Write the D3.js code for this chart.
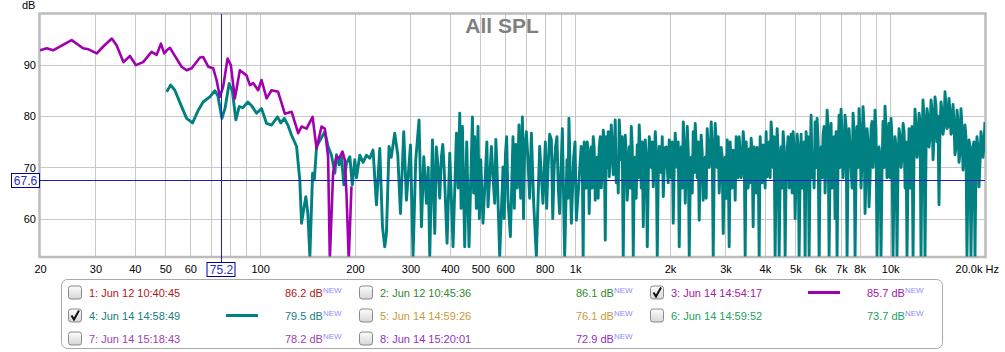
<!DOCTYPE html>
<html>
<head>
<meta charset="utf-8">
<script src="https://cdn.jsdelivr.net/npm/d3@7"></script>
<style>
  html, body { margin: 0; padding: 0; background: #fff; }
  svg text { font-family: "Liberation Sans", Arial, sans-serif; }
</style>
</head>
<body>
<div id="chart"></div>
<script>
// axis ticks and labels
const xTickValues = [20, 30, 40, 50, 60, 100, 200, 300, 400, 500, 600, 800, 1000, 2000, 3000, 4000, 5000, 6000, 7000, 8000, 10000];
const xTickLabels = ['20', '30', '40', '50', '60', '100', '200', '300', '400', '500', '600', '800', '1k', '2k', '3k', '4k', '5k', '6k', '7k', '8k', '10k'];
const yTickValues = [60, 70, 80, 90];

// cursor readout
const cursorFreq = 75.2;
const cursorDb = 67.6;

// legend entries
const legendNames = ['1: Jun 12 10:40:45', '2: Jun 12 10:45:36', '3: Jun 14 14:54:17',
                     '4: Jun 14 14:58:49', '5: Jun 14 14:59:26', '6: Jun 14 14:59:52',
                     '7: Jun 14 15:18:43', '8: Jun 14 15:20:01'];
const legendValues = ['86.2', '86.1', '85.7', '79.5', '76.1', '73.7', '78.2', '72.9'];
const legendChecked = [false, false, true, true, false, false, false, false];
const legendColors = ['#b01818', '#2e8b2e', '#a020a0', '#148080', '#c89b3c', '#22a060', '#a040b0', '#9030c0'];

// measurement 3 (purple) [Hz, dB]
const spl3 = [[20, 92.9], [21, 93.3], [22, 92.9], [25.2, 94.9], [27.4, 93.3], [28.5, 93.1], [30.3, 92.3],
  [31.7, 93.6], [33.8, 95.2], [35, 93.9], [36.8, 90.6], [38.6, 91.8], [40.3, 90.0], [42.5, 90.6],
  [45.2, 92.6], [46.9, 92.0], [48.4, 94.2], [49.6, 92.3], [50.5, 92.9], [51.7, 93.4], [53, 92.3],
  [56.3, 89.7], [58.4, 89.0], [60.6, 89.4], [64.4, 91.5], [65.9, 91.6], [68.4, 89.7], [70.9, 89.4],
  [72.7, 87.1], [74.5, 83.8], [76.3, 85.8], [78.8, 91.3], [80.7, 90.0], [83.1, 83.5], [86.2, 89.0],
  [90.5, 88.0], [92.8, 86.1], [95, 86.5], [98.5, 85.1], [101, 87.1], [104.8, 83.5], [108.7, 85.1],
  [114, 84.8], [119.8, 80.5], [125.8, 80.9], [132, 76.7], [135.3, 78], [140.4, 77.6], [146.7, 79.9],
  [151, 73.7], [156.6, 78], [160.4, 77.6], [164.3, 72.1], [166.4, 52], [170.4, 68.9], [174.7, 72.1],
  [178, 71.8], [182.5, 73.1], [185.6, 71.5], [187.9, 65], [191.1, 52], [194.9, 66.3]];

// measurement 4 (teal) [Hz, dB]
const spl4 = [[50.5, 84.8], [52, 86.1], [53.6, 85.1], [56.3, 81.9], [58.4, 79.6], [61, 78.7], [63.6, 81.2],
  [65.9, 82.8], [69.2, 83.8], [71.8, 85], [73.4, 84], [75.6, 79.6], [77.3, 81.5], [79.7, 86.4], [81.6, 85],
  [83.7, 79.3], [85.8, 81.9], [88.1, 81.7], [91.4, 82.8], [94.1, 82], [97.4, 80.6], [101, 81.5],
  [104.8, 78.6], [108.7, 78.3], [113.5, 79.9], [116.3, 78.7], [119.3, 79.6], [122.4, 78.3], [125.8, 76.3],
  [130.5, 74.1], [133.6, 67.5], [135.3, 59.1], [137.6, 62], [139.6, 64.3], [141.7, 61], [143.8, 52.6],
  [146.7, 68.9], [148.6, 67.6], [151, 74.1], [153.9, 75], [160.4, 77], [164.3, 74.1], [168.4, 72.4],
  [172.6, 68.9], [174.7, 72.5], [178.1, 70.5], [181.2, 72.1], [184.3, 66.6], [187.9, 70.8], [192.6, 72.1],
  [196.1, 66.6], [199.7, 71.5], [202.2, 68], [207.1, 72.4], [212.2, 71], [217.5, 72.4], [222.8, 71.8],
  [228.2, 73.4], [234, 62.7], [239.7, 73.7], [244.5, 58.4], [248.6, 54.5], [251.7, 57.1], [256.5, 74.1],
  [260.7, 72], [267.4, 76.7], [273.4, 72.5], [278.8, 61], [285.6, 77], [291.3, 63.6], [300, 74.4],
  [305.7, 52.6], [311.8, 71.5], [319.4, 79.3], [325.1, 58.4], [330.6, 72.1], [337.2, 63], [341.6, 70],
  [345.4, 52.6], [352.3, 75.4], [358.3, 57.1], [362.5, 74], [367, 70.1], [371.5, 64], [376.2, 72.1],
  [380, 74.5], [384, 69.5], [392, 55.2], [399.8, 72.8], [409.5, 54.5], [419.8, 76.7], [425, 66],
  [430.1, 80.6], [434.3, 62], [438.6, 78], [446, 54.5], [452.6, 75], [460.3, 54.5], [471.9, 79.9],
  [475.9, 65], [479.9, 76], [485.7, 62], [491.6, 78], [496.4, 60], [501.3, 71.5], [509.8, 59.1], [520, 70],
  [524.4, 75], [528.8, 62.3], [542.1, 74.1], [548.6, 68], [555.3, 63], [560, 75.5], [564.7, 70], [576, 52.6],
  [590.1, 70.1], [595.2, 60], [600.5, 72.5], [606, 76], [611.9, 63.6], [622.8, 56.5], [634.7, 76],
  [641, 62], [647.4, 74.5], [655.2, 66], [663.1, 78.3], [671.4, 64], [679.8, 79.9], [685.5, 60], [691.3, 74],
  [699.7, 77], [708.2, 71.5], [717, 64], [726.1, 76.7], [738.4, 63], [753, 52.6], [771.4, 74.1], [790.2, 63],
  [804.2, 75], [811.8, 62], [819.5, 69.5], [829.8, 76.5], [840.2, 75.4], [848.8, 60], [857.6, 70],
  [866.4, 74], [875.3, 76], [883.9, 66], [892.6, 61], [910.5, 77.6], [926, 52.6], [941.7, 71.5],
  [948.6, 64], [955.5, 79.6], [972.6, 59.1], [989.1, 72], [998.8, 75], [1008.6, 59.7],
  [1030, 68], [1037, 71], [1045, 74.1], [1053, 72], [1060, 52.6], [1068, 75], [1076, 70], [1084, 66],
  [1092, 75], [1100, 73], [1108, 61], [1116, 70], [1124, 74], [1132, 66], [1141, 76], [1149, 74],
  [1158, 63.6], [1166, 69], [1175, 72], [1183, 64], [1192, 73.9], [1201, 76], [1210, 66], [1219, 70],
  [1228, 77.3], [1237, 74], [1246, 55.8], [1255, 76], [1264, 70], [1273, 77], [1283, 68.2], [1292, 72],
  [1302, 78.3], [1311, 74], [1321, 68.6], [1330, 72], [1340, 79.3], [1350, 67], [1360, 72], [1370, 65],
  [1380, 79.3], [1390, 75], [1400, 71.5], [1410, 76], [1421, 52.6], [1431, 70], [1442, 76.3], [1452, 73],
  [1463, 63.6], [1474, 68], [1485, 74], [1496, 66], [1507, 78], [1518, 74], [1529, 52.6], [1540, 69],
  [1551, 72], [1562, 64], [1574, 74.4], [1585, 68], [1597, 78.3], [1609, 73], [1621, 66], [1633, 75],
  [1645, 58.4], [1657, 70], [1669, 75.4], [1681, 72], [1694, 54.5], [1706, 68], [1719, 76], [1731, 73],
  [1744, 70], [1757, 75], [1770, 66.2], [1783, 71], [1796, 77], [1809, 73], [1822, 52.6], [1835, 68],
  [1849, 74.1], [1862, 72], [1876, 69], [1890, 76], [1904, 64.3], [1918, 70], [1932, 73.9], [1946, 74],
  [1960, 70], [1974, 67], [1989, 75.4], [2003, 73], [2018, 68], [2033, 75], [2048, 59.1], [2063, 70],
  [2078, 76.7], [2093, 73], [2109, 70], [2124, 75], [2140, 54.5], [2156, 70], [2172, 74], [2188, 66],
  [2204, 78.9], [2220, 74], [2236, 63], [2252, 70], [2269, 78], [2286, 73], [2302, 52.6], [2319, 68],
  [2336, 72], [2353, 65], [2370, 77], [2387, 69], [2405, 78.6], [2423, 74], [2440, 68], [2458, 75],
  [2476, 59.7], [2494, 70], [2512, 76.3], [2530, 73], [2549, 63.6], [2568, 69], [2587, 72], [2606, 64],
  [2625, 77.6], [2644, 74], [2664, 70], [2683, 72], [2703, 78.9], [2723, 74], [2743, 52.6], [2763, 70],
  [2783, 78.6], [2803, 75], [2824, 70], [2845, 76], [2866, 65], [2887, 70], [2908, 73.9], [2929, 72],
  [2951, 57.1], [2972, 68], [2994, 72], [3016, 64], [3038, 75.4], [3060, 72], [3083, 54.5], [3105, 75],
  [3128, 70], [3151, 66], [3174, 73.4], [3197, 72], [3221, 63.6], [3244, 76], [3268, 71], [3292, 68],
  [3316, 76], [3340, 73], [3365, 68], [3390, 70], [3415, 77], [3440, 74], [3465, 52.6], [3490, 75],
  [3516, 70], [3542, 66], [3568, 73.6], [3594, 67], [3620, 75.7], [3646, 73], [3673, 58.4], [3700, 74],
  [3727, 71], [3754, 65], [3782, 73.9], [3810, 72], [3838, 52.6], [3866, 76], [3894, 70], [3922, 67],
  [3951, 74.4], [3980, 73], [4009, 66], [4038, 77], [4068, 68.2], [4098, 70], [4128, 75], [4158, 68],
  [4189, 78.9], [4220, 75], [4251, 70], [4282, 76], [4313, 52.6], [4345, 70], [4377, 77.6], [4409, 73],
  [4441, 52.6], [4474, 68], [4506, 74], [4539, 66], [4573, 77], [4606, 74], [4640, 52.6], [4674, 69],
  [4708, 73.1], [4742, 76], [4778, 66], [4813, 70], [4848, 76.5], [4884, 65], [4919, 77], [4955, 74],
  [4992, 60], [5029, 70], [5065, 76.5], [5102, 74], [5140, 52.6], [5178, 69], [5215, 76.5], [5253, 66],
  [5292, 72], [5331, 75], [5370, 52.6], [5409, 77], [5449, 70], [5489, 76], [5529, 52.6], [5570, 70],
  [5610, 80.2], [5651, 68], [5693, 72], [5735, 66], [5777, 78.9], [5819, 70], [5862, 79.6], [5905, 75],
  [5948, 52.6], [5992, 70], [6036, 74], [6080, 68], [6124, 76.5], [6169, 78], [6214, 65], [6260, 72],
  [6306, 81.2], [6352, 78], [6398, 52.6], [6445, 70], [6493, 78.6], [6540, 66], [6588, 75.4], [6636, 76],
  [6685, 60], [6734, 77], [6783, 52.6], [6833, 72], [6883, 80.2], [6933, 70], [6984, 81.4], [7035, 76],
  [7087, 68], [7139, 72], [7191, 80.2], [7244, 78], [7297, 52.6], [7350, 70], [7404, 77.6], [7458, 74],
  [7513, 70], [7568, 66], [7624, 80.6], [7680, 77], [7736, 52.6], [7793, 70], [7850, 78], [7907, 70],
  [7965, 81.5], [8023, 77], [8082, 66], [8141, 72], [8201, 81.9], [8261, 78], [8322, 61], [8383, 68],
  [8444, 77.6], [8506, 75], [8569, 62.3], [8632, 68], [8695, 77.6], [8759, 79], [8823, 70], [8888, 73],
  [8952, 81.2], [9018, 77], [9084, 52.6], [9151, 68], [9218, 74], [9285, 72], [9353, 52.6], [9422, 70],
  [9491, 79], [9561, 70], [9630, 82], [9701, 78], [9772, 68], [9844, 72], [9916, 78.6], [9988, 68],
  [10060, 79.6], [10130, 76], [10210, 52.6], [10290, 68], [10360, 76], [10440, 74], [10510, 52.6],
  [10590, 70], [10670, 77.6], [10750, 76], [10830, 70], [10910, 72], [10990, 78.6], [11070, 77],
  [11150, 66], [11230, 75], [11310, 52.6], [11390, 68], [11480, 77.6], [11560, 66], [11650, 75.4],
  [11730, 78], [11820, 52.6], [11900, 72], [11990, 81.4], [12080, 78], [12170, 72], [12260, 74],
  [12350, 80.6], [12440, 79], [12530, 52.6], [12620, 74], [12710, 83.2], [12800, 80], [12900, 52.6],
  [13000, 74], [13090, 81.5], [13180, 80], [13280, 74], [13380, 76], [13480, 83.2], [13580, 81],
  [13680, 71.5], [13780, 76], [13880, 83.8], [13980, 82], [14080, 75], [14180, 80], [14290, 62.7],
  [14390, 77], [14500, 82.8], [14600, 81], [14710, 76.5], [14820, 78], [14930, 84.8], [15040, 82],
  [15150, 77.6], [15260, 78], [15370, 83.5], [15480, 81], [15600, 76.5], [15710, 77], [15830, 82.3],
  [15940, 79], [16060, 72.5], [16180, 74], [16300, 81.2], [16420, 79], [16540, 71], [16660, 73],
  [16780, 81.5], [16900, 78], [17030, 69.5], [17150, 72], [17280, 78.3], [17400, 76], [17530, 52.6],
  [17660, 68], [17790, 75.4], [17920, 74], [18050, 52.6], [18180, 66], [18320, 74.1], [18450, 75],
  [18590, 52.6], [18720, 70], [18860, 76], [18990, 74], [19140, 66.2], [19280, 71], [19420, 77],
  [19560, 75], [19700, 72], [19840, 74], [19990, 78.9]];

const width = 1005, height = 352;
const plot = { left: 40, right: 985, top: 14, bottom: 256.5 };

const svg = d3.select('#chart').append('svg')
    .attr('width', width)
    .attr('height', height);

const x = d3.scaleLog().domain([20, 20000]).range([plot.left, plot.right]);
const y = d3.scaleLinear().domain([52.6, 100]).range([plot.bottom, plot.top]);

// grid
const grid = svg.append('g').attr('class', 'grid');
grid.selectAll('line.vx')
    .data(x.ticks().filter(d => d > 20 && d < 20000))
    .enter().append('line')
    .attr('x1', d => Math.round(x(d)) + 0.5)
    .attr('x2', d => Math.round(x(d)) + 0.5)
    .attr('y1', plot.top)
    .attr('y2', plot.bottom)
    .attr('stroke', '#c8c8c8');
grid.selectAll('line.hy')
    .data(yTickValues)
    .enter().append('line')
    .attr('x1', plot.left)
    .attr('x2', plot.right)
    .attr('y1', d => Math.round(y(d)) + 0.5)
    .attr('y2', d => Math.round(y(d)) + 0.5)
    .attr('stroke', '#c8c8c8');

// frame
svg.append('rect')
    .attr('x', plot.left - 0.5)
    .attr('y', plot.top - 0.5)
    .attr('width', plot.right - plot.left + 1)
    .attr('height', plot.bottom - plot.top + 1)
    .attr('fill', 'none')
    .attr('stroke', '#bcbcbc')
    .attr('stroke-width', 2.5);

// curves
svg.append('clipPath').attr('id', 'clip')
    .append('rect')
    .attr('x', plot.left).attr('y', plot.top)
    .attr('width', plot.right - plot.left)
    .attr('height', plot.bottom - plot.top);

const line = d3.line()
    .x(d => x(d[0]))
    .y(d => y(d[1]));

const curves = svg.append('g').attr('clip-path', 'url(#clip)');
curves.append('path')
    .datum(spl4)
    .attr('fill', 'none')
    .attr('stroke', '#008080')
    .attr('stroke-width', 2.9)
    .attr('stroke-linejoin', 'round')
    .attr('d', line);
curves.append('path')
    .datum(spl3)
    .attr('fill', 'none')
    .attr('stroke', '#a000b0')
    .attr('stroke-width', 2.6)
    .attr('stroke-linejoin', 'round')
    .attr('d', line);

// axes
const xAxis = svg.append('g')
    .attr('transform', `translate(0,${plot.bottom})`)
    .call(d3.axisBottom(x)
        .tickValues(xTickValues)
        .tickFormat((d, i) => xTickLabels[i])
        .tickSize(0)
        .tickPadding(8.5));
xAxis.select('.domain').remove();
xAxis.selectAll('text')
    .attr('fill', '#000')
    .style('font-size', '11px')
    .style('font-family', '"Liberation Sans", Arial, sans-serif');

svg.append('text')
    .attr('x', 999)
    .attr('y', 273)
    .attr('text-anchor', 'end')
    .style('font-size', '11px')
    .text('20.0k Hz');

const yAxis = svg.append('g')
    .attr('transform', `translate(${plot.left},0)`)
    .call(d3.axisLeft(y)
        .tickValues(yTickValues)
        .tickSize(0)
        .tickPadding(4));
yAxis.select('.domain').remove();
yAxis.selectAll('text')
    .attr('fill', '#000')
    .style('font-size', '11px')
    .style('font-family', '"Liberation Sans", Arial, sans-serif');

svg.append('text')
    .attr('x', 22)
    .attr('y', 9)
    .style('font-size', '11px')
    .text('dB');

// title
svg.append('text')
    .attr('x', 502)
    .attr('y', 33)
    .attr('text-anchor', 'middle')
    .attr('fill', '#808080')
    .style('font-size', '21px')
    .style('font-weight', 'bold')
    .text('All SPL');

// cursor
const cx = Math.round(x(cursorFreq)) + 0.5;
const cy = Math.round(y(cursorDb)) + 0.5;
const cursor = svg.append('g');
cursor.append('line')
    .attr('x1', cx).attr('x2', cx)
    .attr('y1', plot.top).attr('y2', 262)
    .attr('stroke', '#1c1cc0');
cursor.append('line')
    .attr('x1', 39).attr('x2', plot.right)
    .attr('y1', cy).attr('y2', cy)
    .attr('stroke', '#1c1cc0');
cursor.append('rect')
    .attr('x', cx - 14.5).attr('y', 262.5)
    .attr('width', 28).attr('height', 14)
    .attr('fill', '#fff')
    .attr('stroke', '#0000a0');
cursor.append('text')
    .attr('x', cx).attr('y', 274)
    .attr('text-anchor', 'middle')
    .attr('fill', '#2a2ad0')
    .style('font-size', '12px')
    .text(cursorFreq.toFixed(1));
cursor.append('rect')
    .attr('x', 11.5).attr('y', cy - 7)
    .attr('width', 28).attr('height', 14)
    .attr('fill', '#fff')
    .attr('stroke', '#0000a0');
cursor.append('text')
    .attr('x', 25.5).attr('y', cy + 4.5)
    .attr('text-anchor', 'middle')
    .attr('fill', '#2a2ad0')
    .style('font-size', '12px')
    .text(cursorDb.toFixed(1));

// legend
const defs = svg.append('defs');
const grad = defs.append('linearGradient')
    .attr('id', 'boxgrad')
    .attr('x1', 0).attr('y1', 0).attr('x2', 0).attr('y2', 1);
grad.append('stop').attr('offset', '0%').attr('stop-color', '#fdfdfd');
grad.append('stop').attr('offset', '100%').attr('stop-color', '#d6d6d6');

const legend = svg.append('g').attr('class', 'legend');
legend.append('rect')
    .attr('x', 61.5).attr('y', 279.5)
    .attr('width', 881).attr('height', 69)
    .attr('rx', 6)
    .attr('fill', '#fff')
    .attr('stroke', '#a8a8a8');

legendNames.forEach((name, i) => {
    const col = i % 3, row = Math.floor(i / 3);
    const x0 = 68 + col * 291;
    const yc = 292.5 + row * 23;
    const item = legend.append('g');

    item.append('rect')
        .attr('x', x0 + 0.5).attr('y', yc - 6.5)
        .attr('width', 13).attr('height', 13)
        .attr('rx', 2.5)
        .attr('fill', 'url(#boxgrad)')
        .attr('stroke', '#8a8a8a');

    if (legendChecked[i]) {
        item.append('path')
            .attr('d', `M${x0 + 3.5},${yc} L${x0 + 6},${yc + 4} L${x0 + 11},${yc - 5}`)
            .attr('fill', 'none')
            .attr('stroke', '#111')
            .attr('stroke-width', 2);
        item.append('line')
            .attr('x1', x0 + 158).attr('x2', x0 + 190)
            .attr('y1', yc).attr('y2', yc)
            .attr('stroke', i === 2 ? '#a000b0' : '#008080')
            .attr('stroke-width', 3);
    }

    item.append('text')
        .attr('x', x0 + 21).attr('y', yc + 4)
        .attr('fill', legendColors[i])
        .style('font-size', '11px')
        .text(name);

    const val = item.append('text')
        .attr('x', x0 + 217).attr('y', yc + 4)
        .attr('fill', legendColors[i])
        .style('font-size', '11px');
    val.append('tspan').text(legendValues[i] + ' dB');
    val.append('tspan')
        .attr('dy', -4)
        .attr('fill', '#8c8cff')
        .style('font-size', '8px')
        .text('NEW');
});
</script>
</body>
</html>
